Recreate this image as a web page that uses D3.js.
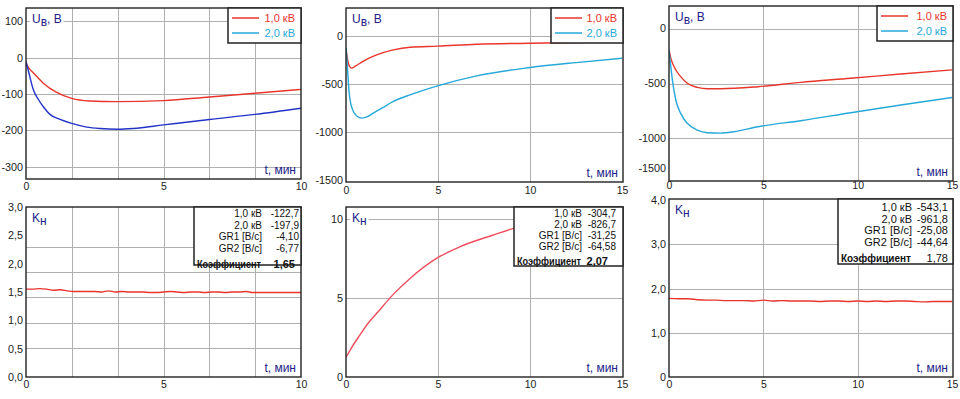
<!DOCTYPE html>
<html><head><meta charset="utf-8">
<script src="https://cdn.jsdelivr.net/npm/d3@7"></script>
<style>
body{margin:0;background:#fff}
svg{display:block}
text{font-family:"Liberation Sans",Arial,Helvetica,sans-serif}
</style>
</head><body>
<svg id="chart" width="960" height="399"></svg>
<script>
// ---------- DATA ----------
const legendLabels = ["1,0 кВ", "2,0 кВ"];
const infoLabels = ["1,0 кВ", "2,0 кВ", "GR1 [В/с]", "GR2 [В/с]", "Коэффициент"];

// Panel A (top-left), U, В vs t, мин
const tA1 = [0, 0.1, 0.27, 0.63, 1.1, 1.66, 2.3, 3.3, 5, 6.67, 8.33, 10];
const uA1 = [-15, -28, -42, -70, -95, -112, -119, -121, -118, -108, -98, -87];
const tA2 = [0, 0.1, 0.27, 0.45, 0.63, 0.87, 1.24, 1.66, 2.21, 2.69, 3.32, 3.9, 5, 6.67, 8.33, 10];
const uA2 = [-10, -40, -89, -115, -135, -156, -170, -181, -191, -195, -197, -195, -185, -170, -156, -139];
const yTicksA = [100, 0, -100, -200, -300];
const xTicksA = [0, 5, 10];

// Panel B (top-middle)
const tB1 = [0, 0.1, 0.2, 0.31, 0.5, 0.76, 1.2, 1.67, 2.57, 3.48, 4.98, 7.1, 10, 12.5, 15];
const uB1 = [-125, -260, -320, -335, -315, -284, -235, -197, -145, -117, -106, -86, -76, -68, -60];
const tB2 = [0, 0.07, 0.13, 0.22, 0.4, 0.6, 0.85, 1.1, 1.48, 2.0, 2.57, 3.48, 4.98, 7.1, 10, 12.5, 15];
const uB2 = [-125, -300, -491, -665, -786, -835, -855, -845, -803, -745, -682, -613, -519, -415, -329, -277, -232];
const yTicksB = [0, -500, -1000, -1500];
const xTicks15 = [0, 5, 10, 15];

// Panel C (top-right)
const tC1 = [0, 0.1, 0.27, 0.62, 0.97, 1.5, 2.03, 2.74, 4.72, 6.98, 9.63, 12.28, 15];
const uC1 = [-190, -270, -346, -437, -498, -535, -548, -548, -529, -489, -452, -413, -375];
const tC2 = [0, 0.08, 0.18, 0.36, 0.62, 0.97, 1.5, 2.03, 2.74, 3.44, 4.72, 6.98, 9.63, 12.28, 15];
const uC2 = [-190, -320, -468, -651, -774, -865, -927, -951, -955, -942, -896, -841, -768, -697, -628];
const yTicksC = [0, -500, -1000, -1500];

// Panel D (bottom-left), Kн vs t
const tD = [0,0.25,0.5,0.75,1,1.25,1.5,1.75,2,2.25,2.5,2.75,3,3.25,3.5,3.75,4,4.25,4.5,4.75,5,5.25,5.5,5.75,6,6.25,6.5,6.75,7,7.25,7.5,7.75,8,8.25,8.5,8.75,9,9.25,9.5,9.75,10];
const kD = [1.55,1.55,1.56,1.55,1.53,1.54,1.52,1.51,1.51,1.51,1.51,1.50,1.52,1.50,1.51,1.50,1.50,1.50,1.49,1.49,1.50,1.51,1.50,1.49,1.50,1.50,1.49,1.50,1.50,1.49,1.50,1.50,1.51,1.49,1.49,1.49,1.49,1.49,1.49,1.49,1.49];
const yTicksD = [3.0, 2.5, 2.0, 1.5, 1.0, 0.5, 0.0];
const infoD = ["-122,7", "-197,9", "-4,10", "-6,77", "1,65"];

// Panel E (bottom-middle)
const tE = [0, 0.3, 0.76, 1.2, 1.67, 2.57, 3.48, 4.98, 6.2, 8.0, 9.1, 10, 12, 15];
const kE = [1.25, 1.85, 2.66, 3.4, 4.03, 5.23, 6.24, 7.55, 8.25, 8.99, 9.41, 9.7, 10.1, 10.5];
const yTicksE = [10, 5, 0];
const infoE = ["-304,7", "-826,7", "-31,25", "-64,58", "2,07"];

// Panel F (bottom-right)
const tF = [0,0.5,1,1.5,2,2.5,3,3.5,4,4.5,5,5.5,6,6.5,7,7.5,8,8.5,9,9.5,10,10.5,11,11.5,12,12.5,13,13.5,14,14.5,15];
const kF = [1.78,1.77,1.77,1.75,1.74,1.74,1.73,1.73,1.73,1.72,1.74,1.72,1.73,1.72,1.72,1.72,1.71,1.72,1.72,1.71,1.72,1.71,1.72,1.71,1.72,1.72,1.71,1.70,1.71,1.71,1.71];
const yTicksF = [4.0, 3.0, 2.0, 1.0, 0];
const infoF = ["-543,1", "-961,8", "-25,08", "-44,64", "1,78"];

// ---------- DRAWING ----------
const RED = "#e8352c", CYAN = "#26a8d8", BLUE = "#2233c8", PINK = "#ef4d5e";
const NAVY = "#22228a";
const GRID = "#b0b0b0";
const svg = d3.select("#chart");

function comma(v, dec) { return d3.format("." + dec + "f")(v).replace(".", ",").replace("−", "-"); }
const crisp = v => Math.round(v) + 0.5;

function panel(c) {
  const x = d3.scaleLinear().domain(c.xDomain).range([c.L, c.R]);
  const y = d3.scaleLinear().domain(c.yDomain).range([c.B, c.T]);
  const g = svg.append("g");
  // grid
  g.selectAll(".gx").data(c.gridX).join("line").attr("class", "gx")
    .attr("x1", d => crisp(x(d))).attr("x2", d => crisp(x(d))).attr("y1", c.T).attr("y2", c.B)
    .attr("stroke", GRID).attr("stroke-width", 1);
  g.selectAll(".gy").data(c.gridY).join("line").attr("class", "gy")
    .attr("y1", d => crisp(y(d))).attr("y2", d => crisp(y(d))).attr("x1", c.L).attr("x2", c.R)
    .attr("stroke", GRID).attr("stroke-width", 1);
  const titleBg = g.append("rect").attr("fill", "#fff");
  const id = "clip" + c.id;
  svg.append("clipPath").attr("id", id).append("rect")
    .attr("x", c.L).attr("y", c.T).attr("width", c.R - c.L).attr("height", c.B - c.T);
  const line = d3.line().curve(d3.curveMonotoneX).x(d => x(d[0])).y(d => y(d[1]));
  c.series.forEach(s => {
    g.append("path").datum(d3.zip(s.t, s.v)).attr("d", line)
      .attr("fill", "none").attr("stroke", s.color).attr("stroke-width", s.w || 1.4)
      .attr("clip-path", "url(#" + id + ")");
  });
  // frame
  g.append("rect").attr("x", c.L).attr("y", c.T).attr("width", c.R - c.L).attr("height", c.B - c.T)
    .attr("fill", "none").attr("stroke", "#222").attr("stroke-width", 1.4);
  // axes
  const ax = g.append("g").attr("transform", `translate(0,${c.B})`)
    .call(d3.axisBottom(x).tickValues(c.xTicks).tickSize(0).tickPadding(c.xPad).tickFormat(d => d));
  ax.select(".domain").remove();
  ax.selectAll("text").attr("font-size", 10.5).attr("fill", "#222").attr("font-family", "Liberation Sans, Arial, sans-serif");
  const ay = g.append("g").attr("transform", `translate(${c.L},0)`)
    .call(d3.axisLeft(y).tickValues(c.yTicks).tickSize(0).tickPadding(3).tickFormat(c.yFmt));
  ay.select(".domain").remove();
  ay.selectAll("text").attr("font-size", 10.8).attr("fill", "#222").attr("font-family", "Liberation Sans, Arial, sans-serif");
  if (c.clampY) ay.selectAll(".tick").attr("transform", d => `translate(0,${Math.min(y(d), c.B - c.clampY)})`);
  // titles
  const tt = g.append("text").attr("x", c.L + 6).attr("y", c.T + 15).attr("fill", NAVY).attr("font-size", 12);
  tt.append("tspan").text(c.yTitle[0]);
  tt.append("tspan").attr("dy", 3).attr("font-size", 12).text(c.yTitle[1]);
  if (c.yTitle[2]) tt.append("tspan").attr("dy", -3).text(c.yTitle[2]);
  const bb = tt.node().getBBox();
  titleBg.attr("x", bb.x - 2).attr("y", bb.y).attr("width", bb.width + 4).attr("height", bb.height);
  g.append("text").attr("x", c.R - 5).attr("y", c.B - 5).attr("text-anchor", "end")
    .attr("fill", NAVY).attr("font-size", 12).text("t, мин");
  // legend
  if (c.legend) {
    const lg = c.legend;
    g.append("rect").attr("x", lg.x).attr("y", c.T).attr("width", c.R - lg.x).attr("height", lg.h)
      .attr("fill", "#fff").attr("stroke", "#222").attr("stroke-width", 1.5);
    legendLabels.forEach((lab, i) => {
      const yy = c.T + 10 + i * 15;
      g.append("line").attr("x1", lg.x + 4).attr("x2", lg.x + 31).attr("y1", yy).attr("y2", yy)
        .attr("stroke", c.legendColors[i]).attr("stroke-width", 1.5);
      g.append("text").attr("x", c.R - 6).attr("y", yy + 4).attr("text-anchor", "end")
        .attr("font-size", 11).attr("fill", c.legendColors[i]).text(lab);
    });
  }
  // info
  if (c.info) {
    const inf = c.info;
    g.append("rect").attr("x", inf.x).attr("y", c.T).attr("width", c.R - inf.x).attr("height", inf.h)
      .attr("fill", "#fff").attr("stroke", "#222").attr("stroke-width", 1.5);
    infoLabels.forEach((lab, i) => {
      const last = i === 4;
      const yy = c.T + inf.y0 + i * inf.dy + (last ? inf.extra : 0);
      const tl = g.append("text").attr("x", last ? inf.x + 3 : inf.labR).attr("y", yy)
        .attr("text-anchor", last ? "start" : "end").attr("font-size", inf.fs)
        .attr("font-weight", last ? "bold" : "normal").attr("fill", "#111").text(lab);
      if (last) tl.attr("textLength", inf.boldW).attr("lengthAdjust", "spacingAndGlyphs");
      g.append("text").attr("x", last ? inf.lastR : inf.valR).attr("y", yy)
        .attr("text-anchor", "end").attr("font-size", last && inf.boldVal ? inf.fs + 1 : inf.fs)
        .attr("font-weight", last && inf.boldVal ? "bold" : "normal").attr("fill", "#111").text(inf.vals[i]);
    });
  }
}

const fmtInt = d => String(d);
const fmt1 = d => comma(d, 1);

panel({ id: "A", L: 26, R: 301, T: 8, B: 179, xDomain: [0, 10], yDomain: [-334, 137],
  gridX: [10/6, 20/6, 5, 40/6, 50/6], gridY: [100, 0, -100, -200, -300],
  xTicks: xTicksA, xPad: 4, yTicks: yTicksA, yFmt: fmtInt, yTitle: ["U", "в", ", В"],
  series: [{ t: tA1, v: uA1, color: RED }, { t: tA2, v: uA2, color: BLUE }],
  legend: { x: 228, h: 35 }, legendColors: [RED, CYAN] });

panel({ id: "B", L: 346, R: 623, T: 8, B: 182, xDomain: [0, 15.05], yDomain: [-1520, 291],
  gridX: [5, 10], gridY: [0, -500, -1000],
  xTicks: xTicks15, xPad: 5, yTicks: yTicksB, yFmt: fmtInt, yTitle: ["U", "в", ", В"],
  series: [{ t: tB1, v: uB1, color: RED }, { t: tB2, v: uB2, color: CYAN }],
  legend: { x: 551, h: 35 }, legendColors: [RED, CYAN] });

panel({ id: "C", L: 669, R: 953, T: 6, B: 181, xDomain: [0, 15.05], yDomain: [-1394, 211],
  gridX: [5, 10], gridY: [0, -500, -1000],
  xTicks: xTicks15, xPad: 1, yTicks: yTicksC, yFmt: fmtInt, yTitle: ["U", "в", ", В"], clampY: 12,
  series: [{ t: tC1, v: uC1, color: RED }, { t: tC2, v: uC2, color: CYAN }],
  legend: { x: 877, h: 35 }, legendColors: [RED, CYAN] });

panel({ id: "D", L: 26, R: 301, T: 207, B: 377, xDomain: [0, 10], yDomain: [0, 3],
  gridX: [10/6, 20/6, 5, 40/6, 50/6], gridY: [2.29, 1.85, 1.41, 0.95, 0.51],
  xTicks: xTicksA, xPad: 4, yTicks: yTicksD, yFmt: fmt1, yTitle: ["K", "н"],
  series: [{ t: tD, v: kD, color: RED }],
  info: { x: 194, h: 58, y0: 10, dy: 11.7, extra: 4, fs: 10, labR: 262, valR: 299, lastR: 295, boldW: 64, vals: infoD, boldVal: true } });

panel({ id: "E", L: 346, R: 623, T: 207, B: 377, xDomain: [0, 15.05], yDomain: [0, 10.76],
  gridX: [5, 10], gridY: [10, 5],
  xTicks: xTicks15, xPad: 4, yTicks: yTicksE, yFmt: fmtInt, yTitle: ["K", "н"],
  series: [{ t: tE, v: kE, color: PINK }],
  info: { x: 514, h: 59, y0: 10, dy: 11, extra: 4, fs: 10, labR: 582, valR: 616, lastR: 608, boldW: 64, vals: infoE, boldVal: true } });

panel({ id: "F", L: 669, R: 953, T: 199, B: 377, xDomain: [0, 15.05], yDomain: [0, 4.03],
  gridX: [5, 10], gridY: [3, 2, 1],
  xTicks: xTicks15, xPad: 4, yTicks: yTicksF, yFmt: d => d === 0 ? "0" : comma(d, 1), yTitle: ["K", "н"],
  series: [{ t: tF, v: kF, color: RED }],
  info: { x: 838, h: 65, y0: 12, dy: 11.7, extra: 4, fs: 11, labR: 912, valR: 948, lastR: 948, boldW: 70, vals: infoF, boldVal: false } });
</script>
</body></html>
